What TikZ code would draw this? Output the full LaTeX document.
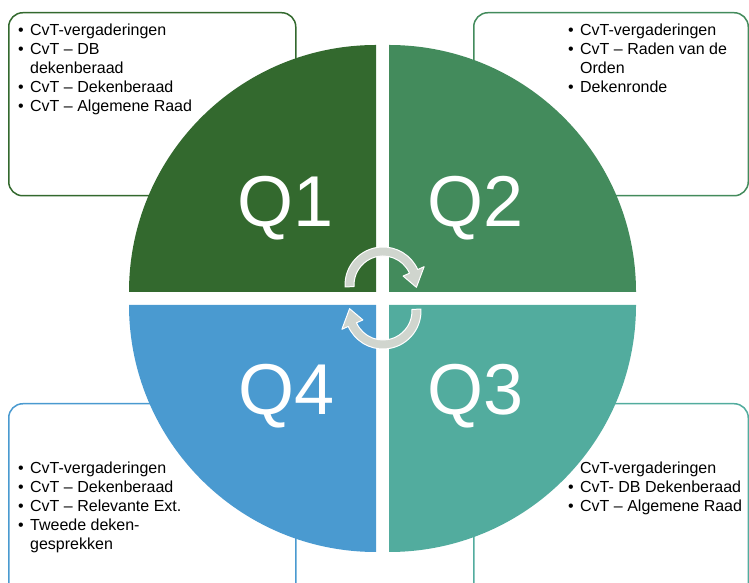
\documentclass[tikz,border=0pt]{standalone}
\usepackage{fontspec}
\setmainfont{Liberation Sans}
\definecolor{qone}{RGB}{51,105,46}
\definecolor{qtwo}{RGB}{67,139,92}
\definecolor{qthree}{RGB}{82,172,158}
\definecolor{qfour}{RGB}{74,154,208}
\definecolor{arrowgray}{RGB}{208,213,206}
\newcommand{\qbullet}{\makebox[12pt][l]{\textbullet}}
\newcommand{\qindent}{\hspace*{12pt}}
\begin{document}
\begin{tikzpicture}[x=1pt,y=1pt,
  infobox/.style={rounded corners=14pt, line width=1.5pt, fill=white, anchor=north west, inner sep=0pt},
  qlabel/.style={anchor=base, text=white, font=\fontsize{72}{72}\selectfont, inner sep=0pt},
  listtext/.style={anchor=north west, align=left, inner sep=0pt, font=\fontsize{16}{19}\selectfont, text=black},
  cyclearrow/.style={fill=arrowgray, draw=white, line width=1pt, line join=round}]
\useasboundingbox (0,0) rectangle (749,583);
\clip (0,0) rectangle (749,583);

% info boxes (behind the circle)
\node[infobox, draw=qone,   minimum width=287,   minimum height=183] (box1) at (8,571) {};
\node[infobox, draw=qtwo,   minimum width=274.5, minimum height=183] (box2) at (473,571) {};
\node[infobox, draw=qfour,  minimum width=287,   minimum height=195] (box4) at (8,180) {};
\node[infobox, draw=qthree, minimum width=274.5, minimum height=195] (box3) at (473,180) {};

% texts
\node[listtext] (t1) at (18,559.7) {\qbullet CvT-vergaderingen\\ \qbullet CvT – DB\\ \qindent dekenberaad\\ \qbullet CvT – Dekenberaad\\ \qbullet CvT – Algemene Raad};
\node[listtext] (t2) at (568,559.7) {\qbullet CvT-vergaderingen\\ \qbullet CvT – Raden van de\\ \qindent Orden\\ \qbullet Dekenronde};
\node[listtext] (t4) at (18,121.7) {\qbullet CvT-vergaderingen\\ \qbullet CvT – Dekenberaad\\ \qbullet CvT – Relevante Ext.\\ \qbullet Tweede deken-\\ \qindent gesprekken};
\node[listtext] (t3) at (568,121.7) {\qbullet CvT-vergaderingen\\ \qbullet CvT- DB Dekenberaad\\ \qbullet CvT – Algemene Raad};

% quadrants
\fill[qone]   (376,291) -- (129,291) arc[start angle=180, end angle=90, radius=247] -- cycle;
\fill[qtwo]   (389,291) -- (389,538) arc[start angle=90, end angle=0, radius=247] -- cycle;
\fill[qfour]  (376,278) -- (129,278) arc[start angle=180, end angle=270, radius=247] -- cycle;
\fill[qthree] (389,278) -- (636,278) arc[start angle=0, end angle=-90, radius=247] -- cycle;

% quadrant labels
\node[qlabel] (q1) at (286,356) {Q1};
\node[qlabel] (q2) at (476,356) {Q2};
\node[qlabel] (q4) at (287,168) {Q4};
\node[qlabel] (q3) at (476,168) {Q3};

% cycle arrows
\begin{scope}[shift={(383,298)}]
  \path[cyclearrow] (183:38) arc[start angle=183, end angle=24, radius=38]
    -- (24:45) -- (-4:33.5) -- (24:22) -- (24:29)
    arc[start angle=24, end angle=183, radius=29] -- cycle;
\end{scope}
\begin{scope}[shift={(383,272)}]
  \path[cyclearrow] (3:38) arc[start angle=3, end angle=-156, radius=38]
    -- (-156:45) -- (-184:33.5) -- (-156:22) -- (-156:29)
    arc[start angle=-156, end angle=3, radius=29] -- cycle;
\end{scope}
\end{tikzpicture}
\end{document}
